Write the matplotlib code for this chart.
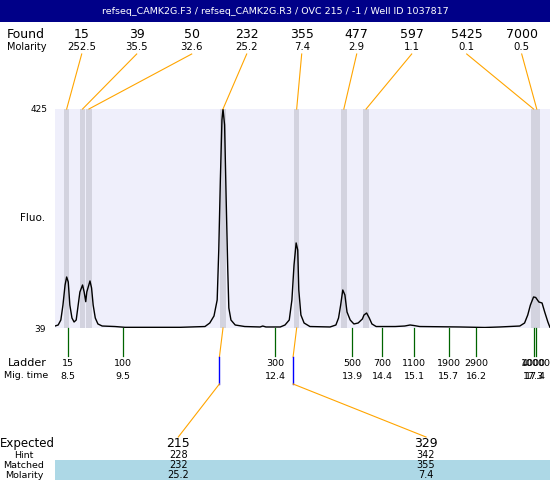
import matplotlib
matplotlib.use("Agg")
import matplotlib.pyplot as plt

plt.rcParams['font.family'] = ['DejaVu Sans']

title = "refseq_CAMK2G.F3 / refseq_CAMK2G.R3 / OVC 215 / -1 / Well ID 1037817"

# found peaks (size, molarity, migration time)
found_size = [15, 39, 50, 232, 355, 477, 597, 5425, 7000]
found_molarity = ["252.5", "35.5", "32.6", "25.2", "7.4", "2.9", "1.1", "0.1", "0.5"]
found_time = [8.48, 8.78, 8.90, 11.43, 12.82, 13.71, 14.13, 17.29, 17.35]

# ladder
ladder_size = [15, 100, 300, 500, 700, 1100, 1900, 2900, 4000, 10000]
ladder_time = [8.50, 9.55, 12.42, 13.87, 14.43, 15.04, 15.69, 16.21, 17.29, 17.33]
ladder_time_label = ["8.5", "9.5", "12.4", "13.9", "14.4", "15.1", "15.7", "16.2", "17.3", "17.4"]

# expected fragments
expected_size = [215, 329]
hint_size = [228, 342]
matched_size = [232, 355]
matched_molarity = ["25.2", "7.4"]
matched_idx = [3, 4]

fluo_min, fluo_max = 39, 425
time_min, time_max = 8.26, 17.60

# electropherogram trace
trace_time = [8.26, 8.32, 8.37, 8.41, 8.45, 8.48, 8.51, 8.54, 8.58, 8.62,
              8.66, 8.69, 8.73, 8.78, 8.81, 8.84, 8.86, 8.92, 8.95, 8.98,
              9.02, 9.07, 9.15, 9.39, 9.58, 10.62, 11.09, 11.18, 11.26, 11.32,
              11.35, 11.38, 11.41, 11.43, 11.46, 11.49, 11.52, 11.54, 11.58, 11.66,
              11.84, 12.13, 12.18, 12.24, 12.51, 12.60, 12.68, 12.73, 12.77, 12.81,
              12.84, 12.86, 12.90, 12.96, 13.07, 13.45, 13.56, 13.61, 13.65, 13.69,
              13.73, 13.77, 13.83, 13.90, 13.98, 14.06, 14.09, 14.14, 14.19, 14.24,
              14.32, 14.68, 14.86, 14.96, 15.03, 15.14, 15.90, 16.37, 16.65, 17.03,
              17.12, 17.18, 17.23, 17.29, 17.33, 17.39, 17.45, 17.50, 17.56, 17.60]
trace_fluo = [42.5, 44.3, 53.1, 79.5, 114.8, 128.9, 120.1, 79.5, 56.6, 49.6,
              53.1, 74.3, 102.5, 114.8, 102.5, 85.4, 102.5, 121.9, 109.5, 79.5,
              56.6, 46.1, 42.5, 41.6, 40.2, 40.2, 41.6, 47.8, 60.2, 88.4,
              176.5, 299.9, 405.7, 425.0, 396.9, 264.7, 141.3, 74.3, 53.1, 44.3,
              41.6, 40.8, 42.5, 40.8, 40.8, 44.3, 53.1, 88.4, 150.0, 188.9,
              176.5, 106.0, 61.9, 47.8, 41.6, 40.8, 44.3, 56.6, 79.5, 106.0,
              97.2, 67.2, 53.1, 46.1, 47.8, 54.9, 61.9, 65.4, 56.6, 46.1,
              41.6, 41.6, 42.5, 44.3, 43.4, 41.6, 40.8, 39.9, 40.8, 42.5,
              47.8, 61.9, 79.5, 93.7, 92.8, 84.8, 83.1, 67.2, 49.6, 39.9]

fig = plt.figure(figsize=(5.5, 4.8), dpi=100)

# main plot
ax = fig.add_axes([55 / 550, (480 - 328) / 480, 495 / 550, 219 / 480])
ax.set_facecolor('#EFEFFB')
for t in found_time:
    ax.axvspan(t - 0.052, t + 0.052, color='#D3D3DF', lw=0)
ax.plot(trace_time, trace_fluo, color='black', lw=1.0)
ax.set_xlim(time_min, time_max)
ax.set_ylim(fluo_min, fluo_max)
ax.set_xticks([])
ax.set_yticks([])
for s in ax.spines.values():
    s.set_visible(False)

# overlay in pixel units
over = fig.add_axes([0, 0, 1, 1])
over.set_xlim(0, 550)
over.set_ylim(480, 0)
over.axis('off')


def to_px(t):
    return over.transData.inverted().transform(ax.transData.transform((t, fluo_min)))[0]


def to_py(f):
    return over.transData.inverted().transform(ax.transData.transform((time_min, f)))[1]


y_top, y_bot = to_py(fluo_max), to_py(fluo_min)

# title bar
over.add_patch(plt.Rectangle((0, 0), 550, 22, color='#000088', lw=0))
over.text(275, 11, title, color='white', fontsize=6.8, ha='center', va='center')

# found row
over.text(26, 34, "Found", fontsize=9, ha='center', va='center')
over.text(27, 46.5, "Molarity", fontsize=7, ha='center', va='center')
for i, (s, m, t) in enumerate(zip(found_size, found_molarity, found_time)):
    lx = 81.7 + 55 * i
    over.text(lx, 34, str(s), fontsize=9, ha='center', va='center')
    over.text(lx, 46.5, m, fontsize=7.3, ha='center', va='center')
    over.plot([lx, to_px(t)], [54, y_top], color='orange', lw=0.8)

# y labels
over.text(48, y_top + 1, str(fluo_max), fontsize=6.5, ha='right', va='center')
over.text(46, y_bot + 2, str(fluo_min), fontsize=6.5, ha='right', va='center')
over.text(33, 218, "Fluo.", fontsize=7.5, ha='center', va='center')

# ladder
over.text(27, 363, "Ladder", fontsize=8, ha='center', va='center')
over.text(26, 376, "Mig. time", fontsize=6.8, ha='center', va='center')
for s, t, lab in zip(ladder_size, ladder_time, ladder_time_label):
    px = to_px(t)
    over.plot([px, px], [y_bot, 356], color='#006400', lw=0.9)
    over.text(px, 363, str(s), fontsize=6.8, ha='center', va='center')
    over.text(px, 376.5, lab, fontsize=6.8, ha='center', va='center')

# expected
over.add_patch(plt.Rectangle((55, 460), 495, 20, color='#ADD8E6', lw=0))
over.text(27, 443, "Expected", fontsize=8.5, ha='center', va='center')
over.text(24, 455, "Hint", fontsize=6.8, ha='center', va='center')
over.text(24, 465, "Matched", fontsize=6.8, ha='center', va='center')
over.text(24, 475, "Molarity", fontsize=6.8, ha='center', va='center')
exp_x = [178.3, 426]
for ex, e, h, m, mm, idx in zip(exp_x, expected_size, hint_size, matched_size,
                                matched_molarity, matched_idx):
    px = to_px(found_time[idx])
    hx = px - 3.6
    over.plot([px, hx], [y_bot, 357], color='orange', lw=0.8)
    over.plot([hx, hx], [357, 384], color='blue', lw=1.0)
    over.plot([hx, ex], [384, 437], color='orange', lw=0.8)
    over.text(ex, 443.5, str(e), fontsize=9, ha='center', va='center')
    over.text(ex, 455, str(h), fontsize=7, ha='center', va='center')
    over.text(ex, 465, str(m), fontsize=7, ha='center', va='center')
    over.text(ex, 475, mm, fontsize=7, ha='center', va='center')

fig.savefig("out.png", dpi=100)
